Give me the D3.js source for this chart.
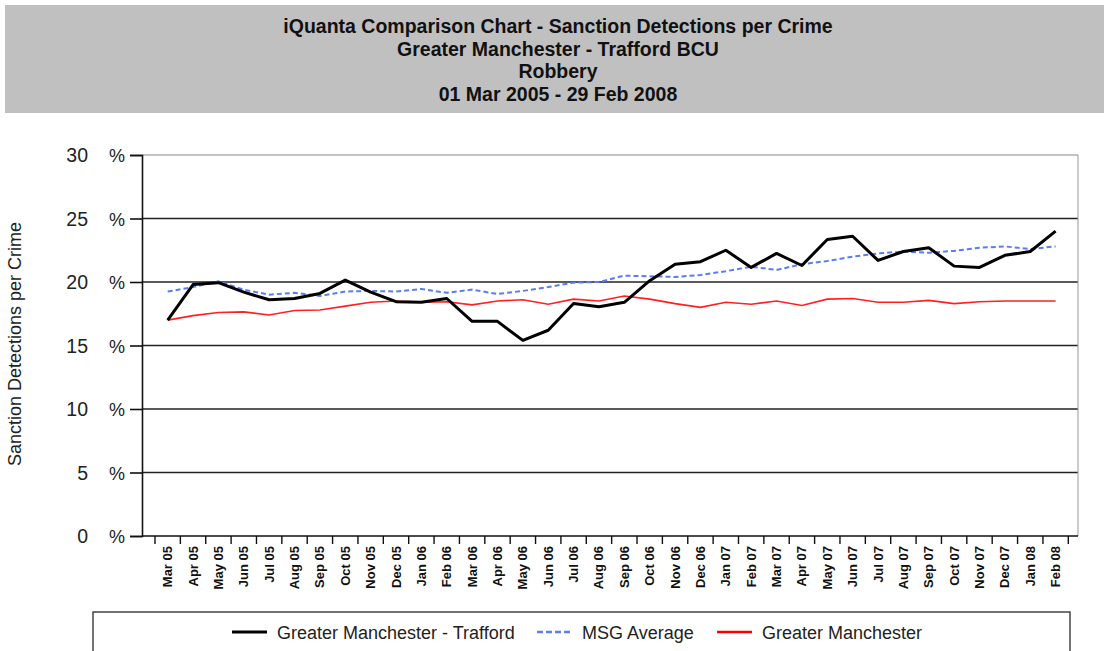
<!DOCTYPE html>
<html>
<head>
<meta charset="utf-8">
<script src="https://cdn.jsdelivr.net/npm/d3@7/dist/d3.min.js"></script>
<style>
  body { margin: 0; background: #fff; }
  svg { display: block; font-family: "Liberation Sans", Arial, sans-serif; }
</style>
</head>
<body>
<svg id="chart" width="1104" height="651"></svg>
<script>
const titleLines = [
  "iQuanta Comparison Chart - Sanction Detections per Crime",
  "Greater Manchester - Trafford BCU",
  "Robbery",
  "01 Mar 2005 - 29 Feb 2008"
];
const months = ["Mar 05","Apr 05","May 05","Jun 05","Jul 05","Aug 05","Sep 05","Oct 05","Nov 05","Dec 05","Jan 06","Feb 06",
  "Mar 06","Apr 06","May 06","Jun 06","Jul 06","Aug 06","Sep 06","Oct 06","Nov 06","Dec 06","Jan 07","Feb 07",
  "Mar 07","Apr 07","May 07","Jun 07","Jul 07","Aug 07","Sep 07","Oct 07","Nov 07","Dec 07","Jan 08","Feb 08"];
const trafford = [17.0,19.8,19.95,19.2,18.6,18.7,19.1,20.15,19.2,18.45,18.4,18.7,
  16.9,16.9,15.4,16.2,18.3,18.05,18.4,20.1,21.4,21.6,22.5,21.15,
  22.25,21.3,23.35,23.6,21.7,22.4,22.7,21.25,21.15,22.1,22.4,24.0];
const msgAverage = [19.25,19.6,20.05,19.4,19.0,19.15,18.9,19.25,19.3,19.25,19.45,19.15,
  19.4,19.05,19.3,19.6,19.95,20.0,20.5,20.45,20.4,20.55,20.85,21.2,
  20.95,21.4,21.65,22.0,22.25,22.4,22.3,22.45,22.7,22.8,22.6,22.8];
const greaterManchester = [17.0,17.35,17.6,17.65,17.4,17.75,17.8,18.1,18.4,18.5,18.4,18.45,
  18.2,18.5,18.6,18.25,18.65,18.5,18.9,18.65,18.3,18.0,18.4,18.25,
  18.5,18.15,18.65,18.7,18.4,18.4,18.55,18.3,18.45,18.5,18.5,18.5];
const yTicks = [0,5,10,15,20,25,30];
const seriesNames = ["Greater Manchester - Trafford","MSG Average","Greater Manchester"];
const yTitle = "Sanction Detections per Crime";

const svg = d3.select("#chart");

// Title box
svg.append("rect").attr("x",5).attr("y",5).attr("width",1099).attr("height",108).attr("fill","#c0c0c0");
svg.append("g").selectAll("text").data(titleLines).join("text")
  .attr("x",558).attr("y",(d,i)=>33+i*22.7)
  .attr("text-anchor","middle").attr("font-weight","bold").attr("font-size",19.5).attr("fill","#111")
  .text(d=>d);

const plotL = 142, plotR = 1078, plotT = 155, plotB = 536;
const x = d3.scaleBand().domain(months).range([155,1068.3]);
const y = d3.scaleLinear().domain([0,30]).range([plotB,plotT]);

// grid lines
svg.append("g").selectAll("line").data(yTicks.filter(t=>t>0 && t<30)).join("line")
  .attr("x1",plotL).attr("x2",plotR).attr("y1",d=>y(d)).attr("y2",d=>y(d))
  .attr("stroke","#222").attr("stroke-width",1.6);
// top and right border
svg.append("line").attr("x1",plotL).attr("x2",plotR).attr("y1",y(30)).attr("y2",y(30)).attr("stroke","#888").attr("stroke-width",1.2);
svg.append("line").attr("x1",plotR).attr("x2",plotR).attr("y1",plotT).attr("y2",plotB).attr("stroke","#999").attr("stroke-width",1);

// y axis
const yAxis = svg.append("g").attr("transform",`translate(${plotL},0)`)
  .call(d3.axisLeft(y).tickValues(yTicks).tickSize(12).tickFormat(""));
yAxis.select(".domain").attr("stroke","#111").attr("stroke-width",1.6);
yAxis.selectAll(".tick line").attr("stroke","#111").attr("stroke-width",1.6);
const yl = svg.append("g");
yl.selectAll("text.num").data(yTicks).join("text").attr("class","num")
  .attr("x",88).attr("y",d=>y(d)+7).attr("text-anchor","end").attr("font-size",19.5).attr("fill","#222").text(d=>d);
yl.selectAll("text.pct").data(yTicks).join("text").attr("class","pct")
  .attr("x",109).attr("y",d=>y(d)+7).attr("font-size",18).attr("fill","#222").text("%");

// x axis
const xAxis = svg.append("g").attr("transform",`translate(0,${plotB})`)
  .call(d3.axisBottom(x).tickSize(0).tickFormat(""));
xAxis.select(".domain").remove();
svg.append("line").attr("x1",plotL).attr("x2",plotR).attr("y1",plotB).attr("y2",plotB).attr("stroke","#111").attr("stroke-width",1.6);
const bounds = months.map(m=>x(m)).concat([x(months[months.length-1])+x.bandwidth()]);
svg.append("g").selectAll("line").data(bounds).join("line")
  .attr("x1",d=>d).attr("x2",d=>d).attr("y1",plotB).attr("y2",plotB+8)
  .attr("stroke","#111").attr("stroke-width",1.4);
svg.append("g").selectAll("text").data(months).join("text")
  .attr("transform",d=>`translate(${x(d)+x.bandwidth()/2+4.5},546) rotate(-90)`)
  .attr("text-anchor","end").attr("font-size",13).attr("font-weight","bold").attr("fill","#111")
  .text(d=>d);

// y title
svg.append("text").attr("transform","translate(21,344) rotate(-90)")
  .attr("text-anchor","middle").attr("font-size",18).attr("fill","#222").text(yTitle);

// lines
const cx = (d,i)=>x(months[i])+x.bandwidth()/2;
const line = d3.line().x(cx).y(d=>y(d));
svg.append("path").datum(greaterManchester).attr("d",line).attr("fill","none").attr("stroke","#ff2020").attr("stroke-width",1.6);
svg.append("path").datum(msgAverage).attr("d",line).attr("fill","none").attr("stroke","#5a7ef0").attr("stroke-width",2).attr("stroke-dasharray","5,3");
svg.append("path").datum(trafford).attr("d",line).attr("fill","none").attr("stroke","#000").attr("stroke-width",3).attr("stroke-linejoin","round");

// legend
svg.append("rect").attr("x",93).attr("y",612).attr("width",977).attr("height",60)
  .attr("fill","none").attr("stroke","#444").attr("stroke-width",1.5);
const legItems = [
  {name:seriesNames[0], x:232, color:"#000", w:3, dash:null},
  {name:seriesNames[1], x:537, color:"#5a7ef0", w:2.5, dash:"6,3"},
  {name:seriesNames[2], x:717, color:"#ff0000", w:2.5, dash:null}
];
const lg = svg.append("g").selectAll("g").data(legItems).join("g");
lg.append("line").attr("x1",d=>d.x).attr("x2",d=>d.x+35).attr("y1",632).attr("y2",632)
  .attr("stroke",d=>d.color).attr("stroke-width",d=>d.w).attr("stroke-dasharray",d=>d.dash);
lg.append("text").attr("x",d=>d.x+45).attr("y",638.5).attr("font-size",18).attr("fill","#222").text(d=>d.name);
</script>
</body>
</html>
